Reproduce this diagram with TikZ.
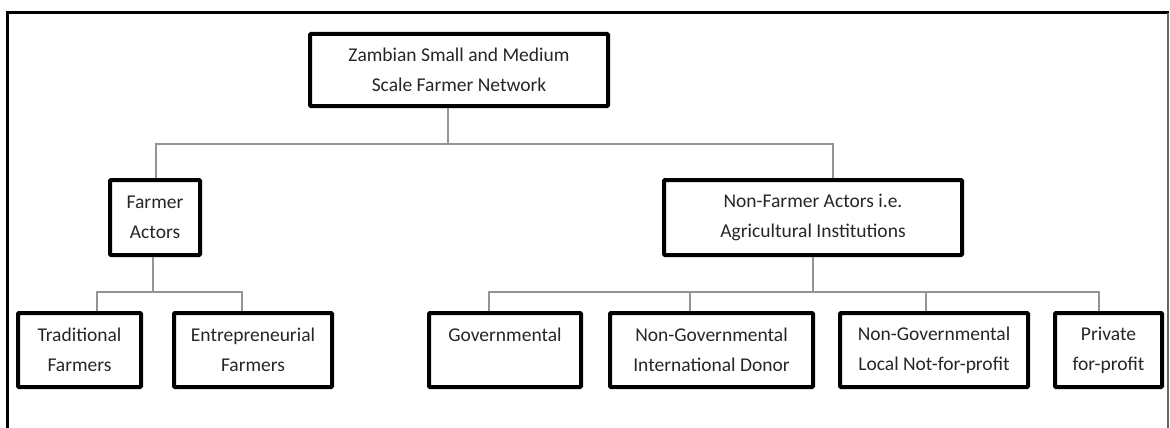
\documentclass[tikz,border=0pt]{standalone}
\usepackage{fontspec}
\setmainfont{Carlito}
\begin{document}
\begin{tikzpicture}[x=1pt,y=-1pt,
  box/.style={draw=black, line width=4pt, rounded corners=1pt, align=center,
    inner sep=0pt, text=black!85, font=\fontsize{19.5}{30}\selectfont},
  conn/.style={draw=black!42, line width=1.3pt},
  frame/.style={draw=black, line width=3pt}]
\useasboundingbox (0,0) rectangle (1170,428);

% outer frame: heavy top and left, light right edge
\draw[frame] (7,440) -- (7,13) -- (1169,13);
\draw[draw=black!60, line width=1.6pt] (1168,13) -- (1168,440);

% root
\node[box, minimum width=298pt, minimum height=72pt] (root) at (459,70)
  {Zambian Small and Medium\\Scale Farmer Network};

% second level
\node[box, minimum width=90pt, minimum height=75pt] (farmer) at (155,217.5)
  {Farmer\\Actors};
\node[box, minimum width=298pt, minimum height=75pt] (nonfarmer) at (813,217.5)
  {Non-Farmer Actors i.e.\\Agricultural Institutions};

% third level
\node[box, minimum width=123pt, minimum height=74pt] (trad) at (79.5,350)
  {Traditional\\Farmers};
\node[box, minimum width=158pt, minimum height=74pt] (entre) at (253,350)
  {Entrepreneurial\\Farmers};
\node[box, minimum width=152pt, minimum height=74pt] (gov) at (505,350)
  {Governmental\\\mbox{}};
\node[box, minimum width=203pt, minimum height=74pt] (ngint) at (711.5,350)
  {Non-Governmental\\International Donor};
\node[box, minimum width=188pt, minimum height=74pt] (ngloc) at (934,350)
  {Non-Governmental\\Local Not-for-profit};
\node[box, minimum width=107pt, minimum height=74pt] (priv) at (1108.5,350)
  {Private\\for-profit};

% connectors root -> second level
\draw[conn] ([xshift=-11pt]root.south) -- ++(0,36) coordinate (j1);
\draw[conn] ([xshift=1pt]farmer.north) |- (j1) -| ([xshift=20pt]nonfarmer.north);

% connectors farmer actors -> farmer types
\draw[conn] ([xshift=-2pt]farmer.south) -- ++(0,35) coordinate (j2);
\draw[conn] ([xshift=17.5pt]trad.north) |- (j2) -| ([xshift=-11pt]entre.north);

% connectors institutions -> institution types
\draw[conn] (nonfarmer.south) -- ++(0,35) coordinate (j3);
\draw[conn] ([xshift=-16pt]gov.north) |- (j3) -| ([xshift=-9.5pt]priv.north);
\draw[conn] ([xshift=-21.5pt]ngint.north) -- ([xshift=-21.5pt]ngint.north |- j3);
\draw[conn] ([xshift=-8pt]ngloc.north) -- ([xshift=-8pt]ngloc.north |- j3);
\end{tikzpicture}
\end{document}
